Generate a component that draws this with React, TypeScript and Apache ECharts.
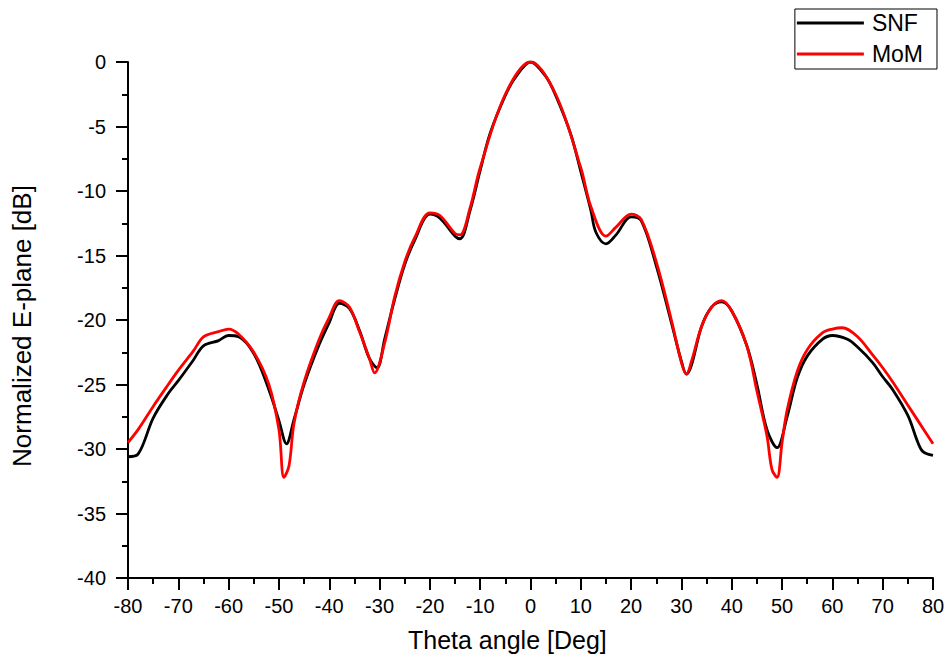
import React, { useEffect, useRef } from "react";
import * as echarts from "echarts";

// Angles (deg) sampled along the E-plane cut
const thetaSNF = [-80, -78, -75, -72, -70, -67, -65, -62, -60, -58, -55, -52, -50, -48.5, -47, -45, -42, -40, -38, -36, -34, -32, -30.5, -29, -27, -25, -23, -20, -18, -15, -14, -12, -10, -8, -5, -3, 0, 3, 5, 8, 10, 12, 13, 15, 17, 20, 22, 25, 28, 30, 31, 32, 34, 36, 38, 40, 43, 45, 47, 49, 51, 53, 55, 58, 60, 63, 65, 68, 70, 72, 75, 77, 78, 80];
const snf = [-30.6, -30.4, -27.6, -25.7, -24.7, -23.1, -22.0, -21.6, -21.2, -21.3, -22.6, -25.4, -27.8, -29.6, -27.7, -25.0, -21.9, -20.2, -18.7, -19.1, -20.8, -23.0, -23.7, -21.5, -18.4, -15.7, -13.8, -11.8, -12.1, -13.5, -13.7, -11.5, -8.4, -5.5, -2.6, -1.2, 0, -1.1, -2.6, -5.6, -8.5, -11.5, -13.2, -14.1, -13.4, -12.0, -12.3, -15.8, -20.2, -23.2, -24.2, -23.5, -20.5, -19.0, -18.6, -19.3, -22.0, -25.0, -28.5, -29.9, -27.5, -24.5, -22.8, -21.5, -21.2, -21.5, -22.1, -23.3, -24.4, -25.4, -27.4, -29.5, -30.2, -30.5];

const thetaMoM = [-80, -78, -75, -72, -70, -67, -65, -62, -60, -58, -55, -52, -50, -49, -48, -47, -45, -42, -40, -38, -36, -34, -32, -31, -29, -27, -25, -23, -20, -18, -15, -14, -12, -10, -5, 0, 5, 10, 12, 15, 17, 20, 22, 25, 28, 30, 31, 32, 34, 36, 38, 40, 43, 45, 47, 48, 49, 50, 51, 53, 55, 58, 60, 62, 65, 68, 70, 72, 75, 77, 80];
const mom = [-29.5, -28.5, -26.7, -25.0, -23.9, -22.4, -21.3, -20.9, -20.7, -21.1, -22.5, -25.0, -28.5, -32.2, -31.3, -28.0, -24.8, -21.5, -19.8, -18.5, -19.0, -20.9, -23.0, -24.1, -21.8, -18.2, -15.5, -13.6, -11.7, -11.9, -13.3, -13.4, -11.3, -8.2, -2.5, 0, -2.5, -8.2, -11.2, -13.5, -12.8, -11.8, -12.2, -15.5, -20.0, -23.3, -24.2, -23.2, -20.5, -19.0, -18.5, -19.3, -22.0, -25.5, -29.0, -31.6, -32.2, -29.5, -27.0, -24.0, -22.3, -21.0, -20.7, -20.6, -21.3, -22.7, -23.7, -24.8, -26.6, -27.8, -29.6];

const FONT = "Liberation Sans, Arial, sans-serif";

const pair = (xs: number[], ys: number[]) => xs.map((x, i) => [x, ys[i]]);

export default function App() {
  const ref = useRef<HTMLDivElement>(null);

  useEffect(() => {
    if (!ref.current) return;
    const chart = echarts.init(ref.current, null, { renderer: "svg" });

    const axisCommon = {
      axisLine: { show: true, onZero: false, lineStyle: { color: "#000", width: 2 } },
      axisTick: { show: true, inside: false, length: 12, lineStyle: { color: "#000", width: 2 } },
      minorTick: { show: true, splitNumber: 2, length: 6, lineStyle: { color: "#000", width: 2 } },
      splitLine: { show: false },
      axisLabel: { color: "#000", fontSize: 20, fontFamily: FONT, margin: 18 },
    };

    chart.setOption({
      animation: false,
      backgroundColor: "#fff",
      grid: { left: 128, right: 16, top: 62, bottom: 89, containLabel: false },
      xAxis: {
        type: "value",
        min: -80,
        max: 80,
        interval: 10,
        ...axisCommon,
      },
      yAxis: {
        type: "value",
        min: -40,
        max: 0,
        interval: 5,
        ...axisCommon,
        axisLabel: { ...axisCommon.axisLabel, margin: 22 },
      },
      legend: {
        right: 12,
        top: 9,
        orient: "vertical",
        itemWidth: 67,
        itemHeight: 3,
        itemGap: 7,
        padding: [2, 14, 3, 2],
        borderColor: "#000",
        borderWidth: 1,
        borderRadius: 0,
        icon: "rect",
        textStyle: { color: "#000", fontSize: 23, lineHeight: 24, fontFamily: FONT, padding: [0, 0, 0, 3] },
        data: ["SNF", "MoM"],
      },
      graphic: [
        {
          type: "text",
          left: 408,
          top: 627,
          style: { text: "Theta angle [Deg]", fontSize: 25, fontFamily: FONT, fill: "#000" },
        },
        {
          type: "text",
          x: 22,
          y: 326,
          rotation: Math.PI / 2,
          style: {
            text: "Normalized E-plane [dB]",
            fontSize: 26,
            fontFamily: FONT,
            fill: "#000",
            align: "center",
            verticalAlign: "middle",
          },
        },
      ],
      series: [
        {
          name: "SNF",
          type: "line",
          data: pair(thetaSNF, snf),
          smooth: 0.35,
          symbol: "none",
          lineStyle: { color: "#000", width: 2.8 },
          itemStyle: { color: "#000" },
          z: 2,
        },
        {
          name: "MoM",
          type: "line",
          data: pair(thetaMoM, mom),
          smooth: 0.35,
          symbol: "none",
          lineStyle: { color: "#ff0000", width: 2.8 },
          itemStyle: { color: "#ff0000" },
          z: 3,
        },
      ],
    });

    return () => chart.dispose();
  }, []);

  return <div ref={ref} style={{ width: 949, height: 667, position: "absolute", left: 0, top: 0 }} />;
}
